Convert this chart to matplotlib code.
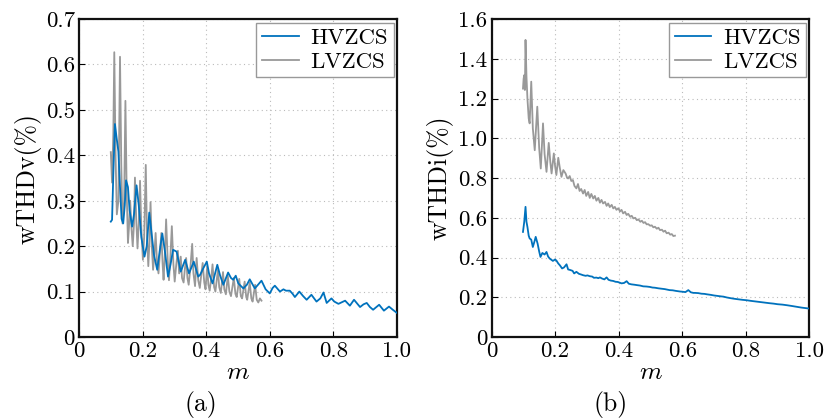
#!/usr/bin/env python3
import matplotlib

matplotlib.use("Agg")
import matplotlib.pyplot as plt

# (a) weighted THD of voltage
A_HV_M = [0.100, 0.104, 0.108, 0.113, 0.118, 0.124, 0.129, 0.134, 0.139, 0.144,
          0.148, 0.154, 0.159, 0.167, 0.173, 0.181, 0.188, 0.196, 0.206, 0.213,
          0.221, 0.228, 0.236, 0.246, 0.254, 0.262, 0.270, 0.280, 0.288, 0.296,
          0.307, 0.320, 0.334, 0.346, 0.361, 0.375, 0.381, 0.390, 0.402, 0.409,
          0.420, 0.435, 0.444, 0.454, 0.469, 0.478, 0.485, 0.493, 0.501, 0.517,
          0.528, 0.537, 0.553, 0.563, 0.574, 0.587, 0.600, 0.609, 0.616, 0.632,
          0.643, 0.651, 0.663, 0.672, 0.679, 0.693, 0.705, 0.716, 0.731, 0.747,
          0.759, 0.769, 0.779, 0.794, 0.803, 0.816, 0.837, 0.852, 0.865, 0.884,
          0.895, 0.905, 0.915, 0.925, 0.944, 0.959, 0.975, 0.987, 1.000]
A_HV_V = [0.254, 0.258, 0.360, 0.469, 0.440, 0.408, 0.330, 0.260, 0.250, 0.290,
          0.345, 0.330, 0.280, 0.243, 0.270, 0.334, 0.290, 0.220, 0.177, 0.200,
          0.274, 0.230, 0.180, 0.148, 0.190, 0.228, 0.190, 0.133, 0.160, 0.192,
          0.188, 0.144, 0.170, 0.140, 0.166, 0.133, 0.137, 0.150, 0.166, 0.140,
          0.118, 0.159, 0.135, 0.115, 0.142, 0.130, 0.126, 0.135, 0.118, 0.107,
          0.115, 0.127, 0.107, 0.115, 0.124, 0.105, 0.096, 0.108, 0.113, 0.100,
          0.105, 0.102, 0.102, 0.095, 0.088, 0.100, 0.090, 0.082, 0.093, 0.078,
          0.085, 0.098, 0.075, 0.085, 0.078, 0.073, 0.080, 0.069, 0.082, 0.066,
          0.072, 0.075, 0.066, 0.060, 0.071, 0.058, 0.067, 0.060, 0.053]

A_LV_M = [0.100, 0.104, 0.108, 0.111, 0.115, 0.119, 0.124, 0.129, 0.133, 0.137,
          0.142, 0.146, 0.150, 0.154, 0.157, 0.161, 0.165, 0.169, 0.173, 0.176,
          0.180, 0.184, 0.188, 0.192, 0.196, 0.201, 0.205, 0.210, 0.214, 0.218,
          0.221, 0.225, 0.229, 0.233, 0.237, 0.241, 0.245, 0.250, 0.254, 0.259,
          0.263, 0.266, 0.270, 0.274, 0.279, 0.283, 0.287, 0.292, 0.297, 0.301,
          0.306, 0.311, 0.315, 0.320, 0.324, 0.329, 0.333, 0.337, 0.341, 0.345,
          0.350, 0.356, 0.360, 0.365, 0.370, 0.375, 0.380, 0.385, 0.389, 0.394,
          0.398, 0.403, 0.407, 0.411, 0.416, 0.420, 0.425, 0.429, 0.437, 0.441,
          0.446, 0.453, 0.457, 0.462, 0.468, 0.473, 0.478, 0.487, 0.492, 0.496,
          0.504, 0.509, 0.513, 0.521, 0.526, 0.529, 0.537, 0.542, 0.546, 0.554,
          0.559, 0.564, 0.569, 0.574]
A_LV_V = [0.407, 0.340, 0.450, 0.627, 0.400, 0.270, 0.300, 0.617, 0.380, 0.250,
          0.300, 0.520, 0.320, 0.207, 0.240, 0.300, 0.240, 0.200, 0.250, 0.351,
          0.260, 0.195, 0.250, 0.344, 0.240, 0.170, 0.220, 0.379, 0.220, 0.156,
          0.200, 0.297, 0.200, 0.148, 0.180, 0.229, 0.170, 0.140, 0.180, 0.229,
          0.160, 0.126, 0.180, 0.259, 0.170, 0.125, 0.170, 0.244, 0.160, 0.122,
          0.160, 0.190, 0.140, 0.177, 0.130, 0.120, 0.150, 0.174, 0.130, 0.115,
          0.150, 0.205, 0.140, 0.112, 0.174, 0.125, 0.108, 0.140, 0.163, 0.120,
          0.105, 0.155, 0.115, 0.102, 0.130, 0.160, 0.110, 0.100, 0.148, 0.110,
          0.097, 0.143, 0.105, 0.094, 0.135, 0.100, 0.090, 0.130, 0.095, 0.088,
          0.128, 0.090, 0.085, 0.122, 0.088, 0.082, 0.120, 0.085, 0.078, 0.115,
          0.082, 0.076, 0.085, 0.080]

# (b) weighted THD of current
B_HV_M = [0.099, 0.103, 0.107, 0.110, 0.113, 0.117, 0.120, 0.125, 0.130, 0.135,
          0.139, 0.145, 0.150, 0.154, 0.160, 0.167, 0.173, 0.178, 0.183, 0.193,
          0.200, 0.204, 0.210, 0.215, 0.222, 0.228, 0.236, 0.241, 0.246, 0.255,
          0.260, 0.267, 0.275, 0.281, 0.288, 0.296, 0.302, 0.309, 0.317, 0.322,
          0.330, 0.336, 0.341, 0.348, 0.355, 0.362, 0.368, 0.375, 0.383, 0.390,
          0.397, 0.404, 0.409, 0.417, 0.425, 0.432, 0.440, 0.450, 0.458, 0.467,
          0.477, 0.488, 0.498, 0.506, 0.514, 0.525, 0.535, 0.545, 0.551, 0.560,
          0.570, 0.580, 0.593, 0.600, 0.610, 0.619, 0.627, 0.635, 0.640, 0.650,
          0.660, 0.670, 0.677, 0.690, 0.700, 0.710, 0.719, 0.730, 0.740, 0.750,
          0.761, 0.770, 0.780, 0.790, 0.803, 0.815, 0.830, 0.845, 0.860, 0.875,
          0.887, 0.900, 0.915, 0.929, 0.945, 0.960, 0.975, 0.990, 1.000]
B_HV_V = [0.529, 0.580, 0.655, 0.580, 0.554, 0.510, 0.496, 0.490, 0.453, 0.480,
          0.504, 0.470, 0.430, 0.403, 0.423, 0.415, 0.428, 0.405, 0.395, 0.383,
          0.390, 0.385, 0.370, 0.361, 0.345, 0.350, 0.366, 0.340, 0.338, 0.333,
          0.320, 0.328, 0.318, 0.315, 0.311, 0.308, 0.310, 0.306, 0.304, 0.298,
          0.299, 0.296, 0.300, 0.294, 0.290, 0.300, 0.288, 0.284, 0.282, 0.278,
          0.277, 0.273, 0.270, 0.272, 0.281, 0.268, 0.265, 0.263, 0.261, 0.259,
          0.255, 0.254, 0.252, 0.249, 0.248, 0.245, 0.243, 0.241, 0.239, 0.236,
          0.235, 0.232, 0.229, 0.228, 0.226, 0.236, 0.225, 0.222, 0.222, 0.221,
          0.218, 0.217, 0.215, 0.212, 0.209, 0.207, 0.205, 0.203, 0.199, 0.196,
          0.193, 0.191, 0.189, 0.187, 0.185, 0.182, 0.179, 0.176, 0.173, 0.170,
          0.168, 0.165, 0.163, 0.160, 0.156, 0.152, 0.148, 0.145, 0.143]

B_LV_M = [0.099, 0.101, 0.103, 0.105, 0.107, 0.110, 0.113, 0.117, 0.120, 0.125,
          0.130, 0.136, 0.144, 0.150, 0.155, 0.162, 0.167, 0.173, 0.180, 0.185,
          0.189, 0.196, 0.200, 0.204, 0.210, 0.215, 0.220, 0.226, 0.233, 0.238,
          0.241, 0.246, 0.251, 0.256, 0.261, 0.267, 0.272, 0.277, 0.282, 0.288,
          0.293, 0.298, 0.304, 0.309, 0.314, 0.320, 0.325, 0.330, 0.336, 0.341,
          0.346, 0.351, 0.357, 0.362, 0.367, 0.372, 0.378, 0.383, 0.388, 0.393,
          0.399, 0.404, 0.409, 0.414, 0.420, 0.425, 0.430, 0.436, 0.441, 0.446,
          0.452, 0.457, 0.462, 0.468, 0.473, 0.478, 0.483, 0.488, 0.493, 0.499,
          0.504, 0.509, 0.514, 0.520, 0.525, 0.530, 0.536, 0.541, 0.546, 0.551,
          0.557, 0.562, 0.567, 0.572, 0.577]
B_LV_V = [1.250, 1.300, 1.318, 1.243, 1.495, 1.310, 1.200, 1.100, 1.075, 1.285,
          1.050, 0.940, 1.159, 0.950, 0.848, 1.075, 0.920, 0.831, 0.977, 0.880,
          0.823, 0.924, 0.860, 0.815, 0.902, 0.850, 0.806, 0.840, 0.823, 0.800,
          0.798, 0.810, 0.785, 0.790, 0.760, 0.748, 0.770, 0.735, 0.745, 0.722,
          0.740, 0.710, 0.730, 0.700, 0.720, 0.697, 0.710, 0.686, 0.700, 0.676,
          0.690, 0.672, 0.680, 0.660, 0.672, 0.654, 0.665, 0.647, 0.655, 0.640,
          0.648, 0.632, 0.640, 0.622, 0.630, 0.614, 0.620, 0.605, 0.610, 0.597,
          0.600, 0.588, 0.592, 0.580, 0.585, 0.574, 0.578, 0.567, 0.568, 0.560,
          0.562, 0.552, 0.555, 0.545, 0.550, 0.538, 0.540, 0.530, 0.535, 0.522,
          0.525, 0.515, 0.518, 0.508, 0.510]

SERIES_NAMES = ["HVZCS", "LVZCS"]
X_TICKS = [0, 0.2, 0.4, 0.6, 0.8, 1.0]
X_TICK_LABELS = ["0", "0.2", "0.4", "0.6", "0.8", "1.0"]
A_Y_TICKS = [0, 0.1, 0.2, 0.3, 0.4, 0.5, 0.6, 0.7]
A_Y_TICK_LABELS = ["0", "0.1", "0.2", "0.3", "0.4", "0.5", "0.6", "0.7"]
B_Y_TICKS = [0, 0.2, 0.4, 0.6, 0.8, 1.0, 1.2, 1.4, 1.6]
B_Y_TICK_LABELS = ["0", "0.2", "0.4", "0.6", "0.8", "1.0", "1.2", "1.4", "1.6"]

BLUE = "#0072bd"
GRAY = "#999999"
TICK_SIZE = 16.5
LABEL_SIZE = 18.5


def style_axes(ax, y_ticks, y_labels, y_max, y_title):
    ax.set_xlim(0, 1.0)
    ax.set_ylim(0, y_max)
    ax.set_xticks(X_TICKS)
    ax.set_xticklabels(X_TICK_LABELS)
    ax.set_yticks(y_ticks)
    ax.set_yticklabels(y_labels)
    ax.tick_params(direction="in", length=4, width=0.8, labelsize=TICK_SIZE, pad=3)
    ax.grid(True, linestyle=(0, (1, 3)), color="#bbbbbb", linewidth=0.8)
    for spine in ax.spines.values():
        spine.set_linewidth(1.6)
        spine.set_color("#111111")
    ax.set_xlabel(r"$m$", fontsize=LABEL_SIZE, labelpad=0)
    ax.set_ylabel(y_title, fontsize=LABEL_SIZE, labelpad=3)
    ax.legend(
        loc="upper right",
        fontsize=TICK_SIZE,
        frameon=True,
        fancybox=False,
        edgecolor="#999999",
        framealpha=1.0,
        handlelength=1.6,
        handletextpad=0.5,
        borderaxespad=0.15,
        borderpad=0.25,
        labelspacing=0.15,
    )


def main() -> None:
    plt.rcParams["font.family"] = ["cmr10", "DejaVu Serif"]
    plt.rcParams["mathtext.fontset"] = "cm"
    plt.rcParams["axes.formatter.use_mathtext"] = True
    plt.rcParams["axes.unicode_minus"] = False

    fig = plt.figure(figsize=(8.28, 4.2), dpi=100)
    ax_a = fig.add_axes([0.0954, 0.1976, 0.384, 0.757])
    ax_b = fig.add_axes([0.5936, 0.1976, 0.384, 0.757])

    ax_a.plot(A_HV_M, A_HV_V, color=BLUE, linewidth=1.3, label=SERIES_NAMES[0], zorder=3)
    ax_a.plot(A_LV_M, A_LV_V, color=GRAY, linewidth=1.3, label=SERIES_NAMES[1], zorder=2)
    style_axes(ax_a, A_Y_TICKS, A_Y_TICK_LABELS, 0.7, "wTHDv(%)")

    ax_b.plot(B_HV_M, B_HV_V, color=BLUE, linewidth=1.3, label=SERIES_NAMES[0], zorder=3)
    ax_b.plot(B_LV_M, B_LV_V, color=GRAY, linewidth=1.3, label=SERIES_NAMES[1], zorder=2)
    style_axes(ax_b, B_Y_TICKS, B_Y_TICK_LABELS, 1.6, "wTHDi(%)")

    fig.text(0.243, 0.036, "(a)", fontsize=LABEL_SIZE, ha="center", va="center")
    fig.text(0.737, 0.036, "(b)", fontsize=LABEL_SIZE, ha="center", va="center")

    fig.savefig("out.png", dpi=100)
    plt.close(fig)


if __name__ == "__main__":
    main()
